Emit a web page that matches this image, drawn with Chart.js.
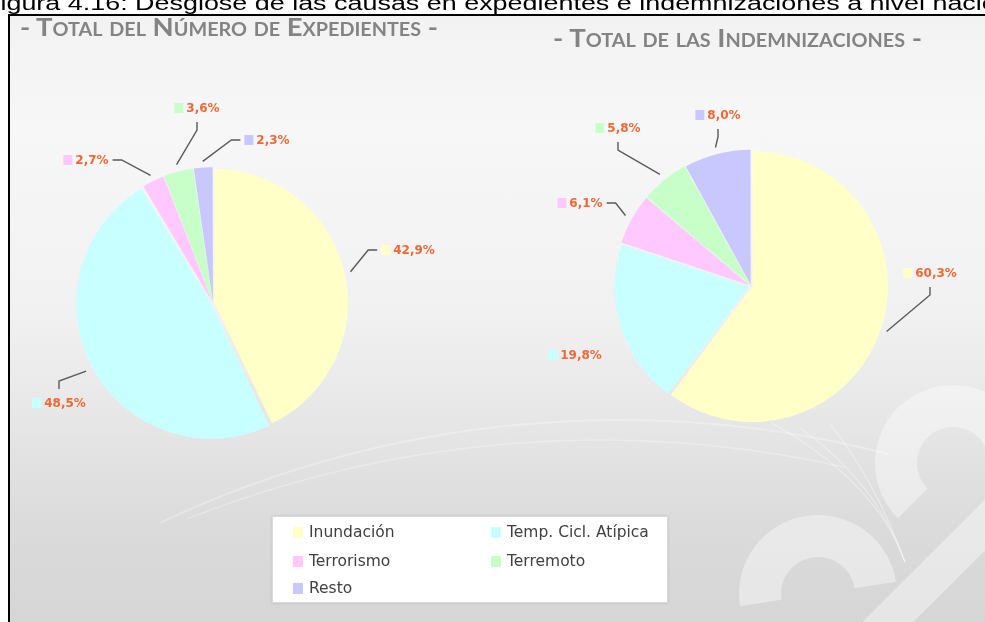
<!DOCTYPE html>
<html lang="es">
<head>
<meta charset="utf-8">
<script src="https://cdn.jsdelivr.net/npm/chart.js@4.4.1/dist/chart.umd.min.js"></script>
<style>
  html, body { margin: 0; padding: 0; width: 985px; height: 622px; overflow: hidden; background: #fff; }
  #caption {
    position: absolute; left: 0; top: -8px; white-space: nowrap; z-index: 5;
    font: 19.5px "Liberation Sans", Arial, sans-serif; color: #000;
    transform-origin: 0 0;
  }
  #frame {
    position: absolute; left: 8px; top: 14px; width: 1000px; height: 620px;
    border-left: 2px solid #000; border-top: 2px solid #000;
    background: linear-gradient(180deg, #f2f2f2 0%, #f7f7f7 18%, #f1f1f1 48%, #e6e6e6 66%, #dbdbdb 82%, #d5d5d5 100%);
  }
  canvas { position: absolute; left: 0; top: 0; }
  canvas.pie { filter: blur(0.4px); }
  .title {
    position: absolute; white-space: nowrap; line-height: 1;
    font-family: Lato, "Open Sans", sans-serif; font-weight: 700; font-size: 25px;
    font-variant: small-caps; color: #838383; transform-origin: 0 0;
  }
  #legend {
    position: absolute; left: 272px; top: 516px; width: 394px; height: 85px;
    background: #fff; border: 1px solid #d9d9d9; box-shadow: 0 0 3px rgba(0,0,0,0.12);
    font: 15.5px "DejaVu Sans", sans-serif; color: #404040;
  }
  .item { position: absolute; white-space: nowrap; line-height: 18px; }
  .key { display: inline-block; width: 10px; height: 11px; margin-right: 6px; vertical-align: -1px; }
</style>
</head>
<body>
<div id="caption"><span id="capF">F</span>igura 4.16: Desglose de las causas en expedientes e indemnizaciones a nivel nacional</div>
<div id="frame"></div>
<canvas id="deco" width="985" height="622"></canvas>
<div class="title" id="t1">- Total del Número de Expedientes -</div>
<div class="title" id="t2">- Total de las Indemnizaciones -</div>
<canvas id="pieExp" class="pie" width="985" height="622"></canvas>
<canvas id="pieInd" class="pie" width="985" height="622"></canvas>
<div id="legend"></div>

<script>
// Causes shared by both pies
const categories = ['Inundación', 'Temp. Cicl. Atípica', 'Terrorismo', 'Terremoto', 'Resto'];
// Share of the number of files (%)
const expedientes = [42.9, 48.5, 2.7, 3.6, 2.3];
// Share of the compensation paid (%)
const indemnizaciones = [60.3, 19.8, 6.1, 5.8, 8.0];

const sliceColors = ['#FFFFC8', '#C8FFFF', '#FFC8FF', '#C8FFC8', '#C8C8FF'];
const labelColor = '#EE6838';

// Label placement around each pie: offset of the label from the pie centre,
// and how its leader line leaves the slice ('h' elbow, 'v' elbow, or none).
const expLabelOffsets = [[195, -53], [-154, 100], [-127, -143], [-16, -195], [54, -163]];
const expLeaders = ['h', 'v', 'h', 'v', 'h'];
const indLabelOffsets = [[179, -13], [-176, 69], [-171, -83], [-133, -158], [-33, -171]];
const indLeaders = ['v', '', 'h', 'v', 'v'];

// ---- frame decoration (soft swooshes and the faint logo) ----
(function drawDeco() {
  const c = document.getElementById('deco').getContext('2d');
  c.save();
  c.beginPath(); c.rect(10, 16, 975, 606); c.clip();
  c.strokeStyle = 'rgba(255,255,255,0.28)'; c.lineWidth = 2;
  c.beginPath(); c.arc(620, 1500, 1080, Math.PI * 1.36, Math.PI * 1.58); c.stroke();
  c.lineWidth = 1.5;
  c.beginPath(); c.arc(600, 1560, 1120, Math.PI * 1.38, Math.PI * 1.57); c.stroke();
  // rays gathering under the right pie
  c.strokeStyle = 'rgba(255,255,255,0.35)'; c.lineWidth = 1.2;
  [[770, 422], [800, 428], [830, 424]].forEach(p => {
    c.beginPath(); c.moveTo(p[0], p[1]); c.quadraticCurveTo(875, 480, 905, 562); c.stroke();
  });
  // logo rings
  c.strokeStyle = 'rgba(255,255,255,0.4)';
  c.lineWidth = 42; c.lineCap = 'butt';
  c.beginPath(); c.arc(953, 463, 57, Math.PI * 0.75, Math.PI * 2.05); c.stroke();
  c.beginPath(); c.arc(818, 594, 58, Math.PI * 0.95, Math.PI * 1.95); c.stroke();
  c.beginPath(); c.moveTo(1010, 500); c.lineTo(870, 640); c.lineWidth = 36; c.stroke();
  c.restore();
})();

// ---- slice labels with coloured key and leader line ----
function sliceLabels(offsets, leaders) {
  return {
    id: 'sliceLabels',
    afterDatasetsDraw(chart) {
      const ctx = chart.ctx;
      const meta = chart.getDatasetMeta(0);
      const values = chart.data.datasets[0].data;
      ctx.save();
      ctx.font = 'bold 12px "DejaVu Sans", sans-serif';
      ctx.textBaseline = 'middle';
      meta.data.forEach((arc, i) => {
        const p = arc.getProps(['x', 'y', 'startAngle', 'endAngle', 'outerRadius']);
        const off = arc.options.offset || 0;
        const mid = (p.startAngle + p.endAngle) / 2;
        const rr = p.outerRadius + off + 3;
        const sx = p.x + Math.cos(mid) * rr;
        const sy = p.y + Math.sin(mid) * rr;
        const text = values[i].toFixed(1).replace('.', ',') + '%';
        const tw = ctx.measureText(text).width;
        const keyW = 9, gap = 3;
        const gw = keyW + gap + tw;
        const cx = p.x + offsets[i][0];
        const cy = p.y + offsets[i][1];
        const left = cx - gw / 2, right = cx + gw / 2;
        const top = cy - 6, bottom = cy + 6;

        // leader
        const mode = leaders[i];
        if (mode) {
          ctx.strokeStyle = '#5a5a5a';
          ctx.lineWidth = 1.4;
          ctx.beginPath();
          ctx.moveTo(sx, sy);
          if (mode === 'h') {
            const toRight = cx > sx;
            const ex = toRight ? left - 4 : right + 4;
            const bx = toRight ? ex - 9 : ex + 9;
            ctx.lineTo(bx, cy); ctx.lineTo(ex, cy);
          } else {
            const above = cy < sy;
            const ey = above ? bottom + 8 : top - 8;
            const by = above ? ey + 8 : ey - 8;
            ctx.lineTo(cx, by); ctx.lineTo(cx, ey);
          }
          ctx.stroke();
        }
        // key square
        ctx.fillStyle = sliceColors[i];
        ctx.fillRect(left, cy - 5, keyW, 10);
        // value
        ctx.fillStyle = labelColor;
        ctx.textAlign = 'left';
        ctx.fillText(text, left + keyW + gap, cy + 0.5);
      });
      ctx.restore();
    }
  };
}

function makePie(id, values, offsets, radius, padding, labelOffsets, leaders) {
  return new Chart(document.getElementById(id), {
    type: 'pie',
    data: {
      labels: categories,
      datasets: [{
        data: values,
        backgroundColor: sliceColors,
        borderWidth: 0,
        offset: offsets
      }]
    },
    options: {
      responsive: false,
      animation: false,
      devicePixelRatio: 1,
      radius: radius,
      layout: { padding: padding },
      events: [],
      plugins: { legend: { display: false }, tooltip: { enabled: false } }
    },
    plugins: [sliceLabels(labelOffsets, leaders)]
  });
}

makePie('pieExp', expedientes, [5, 8, 6, 7, 6], 133,
        { left: 0, right: 559, top: 0, bottom: 16 }, expLabelOffsets, expLeaders);
makePie('pieInd', indemnizaciones, [6, 9, 7, 7, 6], 134,
        { left: 517, right: 0, top: 0, bottom: 50 }, indLabelOffsets, indLeaders);

// ---- shared legend ----
(function buildLegend() {
  const lg = document.getElementById('legend');
  const cols = [20, 218];
  const rows = [6, 35, 62];
  categories.forEach((name, i) => {
    const d = document.createElement('div');
    d.className = 'item';
    d.style.left = cols[i % 2] + 'px';
    d.style.top = rows[Math.floor(i / 2)] + 'px';
    const k = document.createElement('span');
    k.className = 'key';
    k.style.background = sliceColors[i];
    d.appendChild(k);
    d.appendChild(document.createTextNode(name));
    lg.appendChild(d);
  });
})();

// ---- fit headings ----
(function fitText() {
  const cap = document.getElementById('caption');
  const sx = 1.38;
  const fW = document.getElementById('capF').getBoundingClientRect().width;
  cap.style.transform = 'scaleX(' + sx + ')';
  cap.style.left = (-fW * sx) + 'px';

  function fit(id, x, capTop, width) {
    const el = document.getElementById(id);
    const w = el.getBoundingClientRect().width;
    el.style.left = x + 'px';
    el.style.top = (capTop - 5) + 'px';
    el.style.transform = 'scaleX(' + (width / w) + ')';
  }
  fit('t1', 20, 19, 418);
  fit('t2', 553, 30, 369);
})();
</script>
</body>
</html>
